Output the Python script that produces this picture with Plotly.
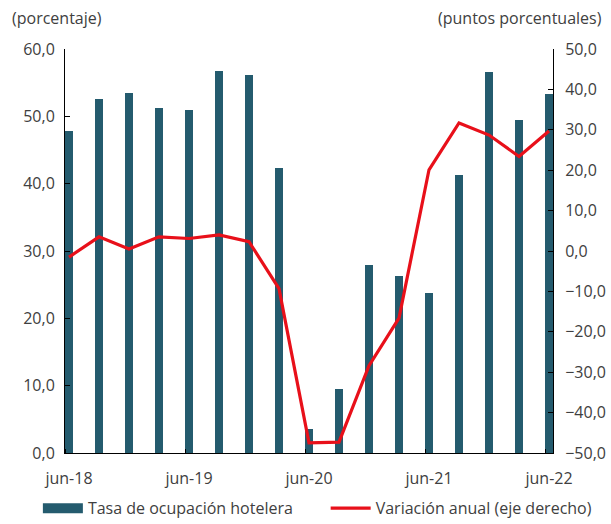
import plotly.graph_objects as go

# quarterly periods, jun-18 .. jun-22
periods = ["jun-18", "sep-18", "dic-18", "mar-19", "jun-19", "sep-19", "dic-19", "mar-20",
           "jun-20", "sep-20", "dic-20", "mar-21", "jun-21", "sep-21", "dic-21", "mar-22", "jun-22"]
tick_labels = ["jun-18", "jun-19", "jun-20", "jun-21", "jun-22"]

# Tasa de ocupacion hotelera (%)
ocupacion = [47.8, 52.6, 53.5, 51.2, 51.0, 56.7, 56.1, 42.4,
             3.6, 9.5, 27.9, 26.3, 23.8, 41.3, 56.6, 49.5, 53.3]
# Variacion anual (puntos porcentuales, eje derecho)
variacion = [-1.5, 3.5, 0.5, 3.5, 3.1, 4.0, 2.3, -9.3,
             -47.5, -47.3, -28.4, -16.6, 20.1, 31.7, 28.7, 23.4, 29.7]

BAR = "#245b6e"
RED = "#e8101a"
TXT = "#404040"
FONT = "Open Sans"
FS = 16

idx = list(range(len(periods)))
fig = go.Figure()

fig.add_trace(go.Bar(
    x=idx, y=ocupacion, width=0.29,
    marker=dict(color=BAR, line_width=0),
    name="Tasa de ocupación hotelera", showlegend=False,
    hovertext=periods,
))
fig.add_trace(go.Scatter(
    x=idx, y=variacion, yaxis="y2", mode="lines",
    line=dict(color=RED, width=3.2),
    name="Variación anual (eje derecho)", showlegend=False,
    hovertext=periods,
))
# legend-only entries (wide swatches like the original), one legend each
fig.add_trace(go.Scatter(x=[None], y=[None], mode="lines",
                         line=dict(color=BAR, width=10),
                         name="Tasa de ocupación hotelera", legend="legend"))
fig.add_trace(go.Scatter(x=[None], y=[None], mode="lines",
                         line=dict(color=RED, width=3.2),
                         name="Variación anual (eje derecho)", legend="legend2"))

leg_common = dict(
    orientation="h", xref="container", yref="container",
    xanchor="left", y=0.03, yanchor="middle",
    font=dict(family=FONT, size=FS, color=TXT),
    bgcolor="rgba(0,0,0,0)", itemwidth=40,
)

fig.update_layout(
    width=611, height=524,
    margin=dict(l=65, r=58, t=49, b=71, autoexpand=False),
    paper_bgcolor="white", plot_bgcolor="white",
    font=dict(family=FONT, size=FS, color=TXT),
    separators=",.",
    bargap=0,
    xaxis=dict(
        range=[-0.133, 16.133],
        tickvals=[0, 4, 8, 12, 16], ticktext=tick_labels,
        ticks="", showgrid=False, zeroline=False,
        showline=True, linecolor="#000000", linewidth=1,
        minor=dict(tick0=-0.133, dtick=4, ticks="inside", ticklen=4,
                   tickcolor="#000000", showgrid=False),
        ticklabelstandoff=11,
        automargin=False, fixedrange=True,
    ),
    yaxis=dict(
        range=[0, 60], dtick=10, tickformat=".1f",
        ticks="inside", ticklen=5, tickcolor="#000000",
        showgrid=False, zeroline=False,
        showline=True, linecolor="#000000", linewidth=1,
        ticklabelstandoff=6, automargin=False,
    ),
    yaxis2=dict(
        range=[-50, 50], dtick=10, tickformat=".1f",
        overlaying="y", side="right",
        ticks="inside", ticklen=5, tickcolor="#000000",
        showgrid=False, zeroline=False,
        showline=True, linecolor="#000000", linewidth=1,
        ticklabelstandoff=8, automargin=False,
    ),
    legend=dict(x=0.062, **leg_common),
    legend2=dict(x=0.533, **leg_common),
    annotations=[
        dict(text="(porcentaje)", xref="paper", yref="paper", x=-0.113, y=1.077,
             xanchor="left", yanchor="middle", showarrow=False,
             font=dict(family=FONT, size=FS, color=TXT)),
        dict(text="(puntos porcentuales)", xref="paper", yref="paper", x=1.104, y=1.077,
             xanchor="right", yanchor="middle", showarrow=False,
             font=dict(family=FONT, size=FS, color=TXT)),
    ],
)

fig.write_html("out.html", config={"displayModeBar": False},
               post_script="document.body.style.margin='0';")
